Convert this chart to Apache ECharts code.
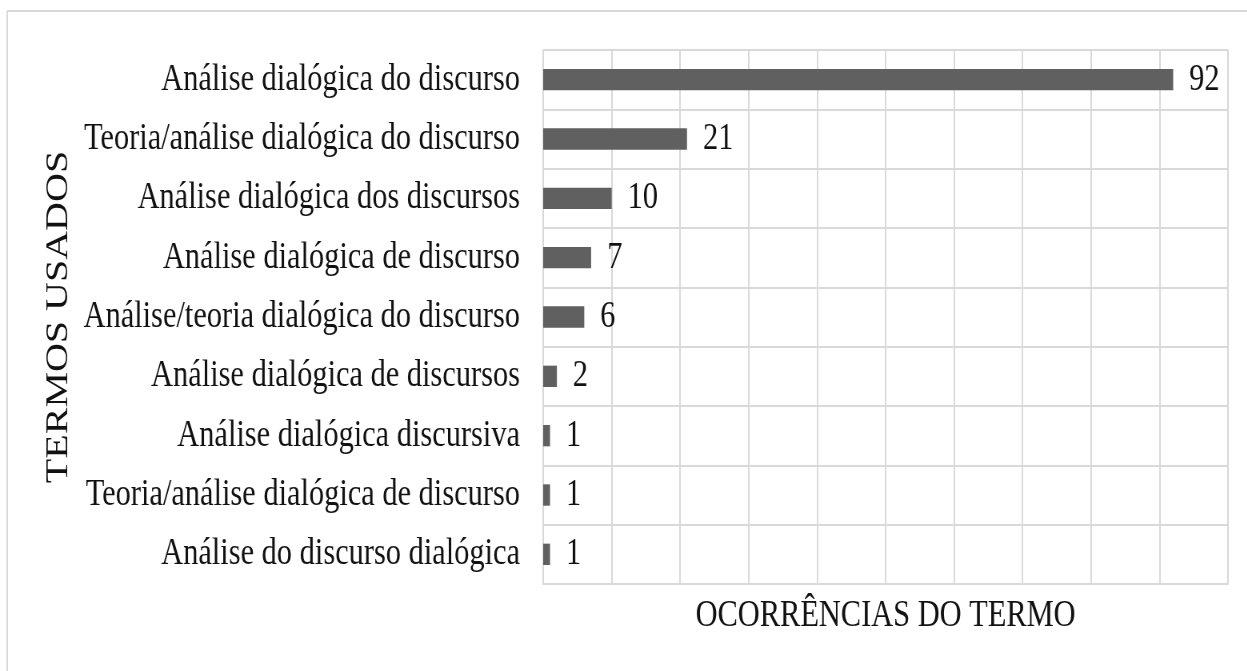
<!DOCTYPE html>
<html>
<head>
<meta charset="utf-8">
<title>Termos usados</title>
<script src="https://cdn.jsdelivr.net/npm/echarts@6/dist/echarts.min.js"></script>
<style>
  html, body { margin: 0; padding: 0; background: #fff; overflow: hidden; }
  /* the source figure is squeezed horizontally, so draw wide and compress */
  #chart { width: 1559px; height: 671px; transform: scaleX(0.8); transform-origin: 0 0; }
</style>
</head>
<body>
<div id="chart"></div>
<script type="text/javascript">
// dados
var termos = [
  'Análise dialógica do discurso',
  'Teoria/análise dialógica do discurso',
  'Análise dialógica dos discursos',
  'Análise dialógica de discurso',
  'Análise/teoria dialógica do discurso',
  'Análise dialógica de discursos',
  'Análise dialógica discursiva',
  'Teoria/análise dialógica de discurso',
  'Análise do discurso dialógica'
];
var ocorrencias = [92, 21, 10, 7, 6, 2, 1, 1, 1];
var eixoMax = 100;
var eixoPasso = 10;

var fonte = '"Liberation Serif", "Times New Roman", serif';
var myChart = echarts.init(document.getElementById('chart'));
var option = {
  animation: false,
  textStyle: { fontFamily: fonte },
  grid: { left: 679, right: 24, top: 50, bottom: 87, containLabel: false },
  graphic: [
    { type: 'line', shape: { x1: 9, y1: 11, x2: 1559, y2: 11 }, style: { stroke: '#d9d9d9', lineWidth: 2 } },
    { type: 'line', shape: { x1: 9, y1: 11, x2: 9, y2: 671 }, style: { stroke: '#d9d9d9', lineWidth: 2 } }
  ],
  xAxis: {
    type: 'value',
    min: 0,
    max: eixoMax,
    interval: eixoPasso,
    name: 'OCORRÊNCIAS DO TERMO',
    nameLocation: 'middle',
    nameGap: 13,
    nameTextStyle: { fontFamily: fonte, fontSize: 38, color: '#111', verticalAlign: 'top' },
    axisLine: { show: true, lineStyle: { color: '#d9d9d9', width: 2 } },
    axisTick: { show: false },
    axisLabel: { show: false },
    splitLine: { show: true, lineStyle: { color: '#d9d9d9', width: 2 } }
  },
  yAxis: {
    type: 'category',
    data: termos,
    inverse: true,
    name: 'TERMOS USADOS',
    nameLocation: 'middle',
    nameGap: 580,
    nameRotate: 90,
    nameTextStyle: { fontFamily: fonte, fontSize: 40, color: '#111' },
    axisLine: { show: true, lineStyle: { color: '#d9d9d9', width: 2 } },
    axisTick: { show: false },
    axisLabel: { margin: 29, fontFamily: fonte, fontSize: 38, color: '#111' },
    splitLine: { show: true, lineStyle: { color: '#d9d9d9', width: 2 } }
  },
  series: [{
    type: 'bar',
    data: ocorrencias,
    barWidth: '36%',
    itemStyle: { color: '#606060' },
    label: {
      show: true,
      position: 'right',
      distance: 20,
      fontFamily: fonte,
      fontSize: 38,
      color: '#111'
    }
  }]
};
myChart.setOption(option);
</script>
</body>
</html>
